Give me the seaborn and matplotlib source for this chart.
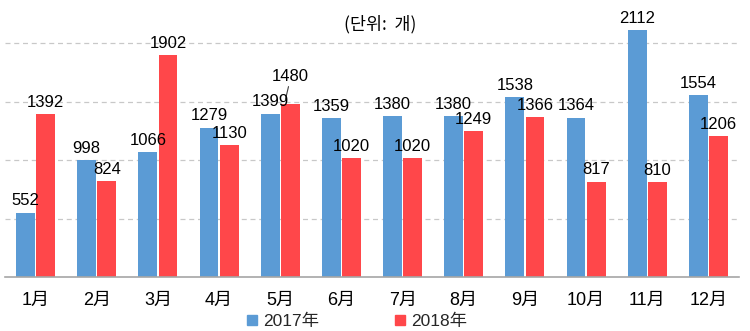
import matplotlib
matplotlib.use("Agg")
import matplotlib.pyplot as plt
from matplotlib.lines import Line2D
import numpy as np
import pandas as pd
import seaborn as sns

months = ["1月", "2月", "3月", "4月", "5月", "6月", "7月", "8月", "9月", "10月", "11月", "12月"]
years = ["2017年", "2018年"]
values_2017 = [552, 998, 1066, 1279, 1399, 1359, 1380, 1380, 1538, 1364, 2112, 1554]
values_2018 = [1392, 824, 1902, 1130, 1480, 1020, 1020, 1249, 1366, 817, 810, 1206]
unit_title = "(단위:  개)"

colors = ["#5B9BD5", "#FF474A"]

df = pd.DataFrame({
    "month": months * 2,
    "year": [years[0]] * len(months) + [years[1]] * len(months),
    "value": values_2017 + values_2018,
})

sns.set_theme(style="white")
plt.rcParams["font.family"] = ["Liberation Sans", "Noto Sans CJK SC", "DejaVu Sans"]

fig = plt.figure(figsize=(7.5, 3.31), dpi=100)
ax = fig.add_axes([5 / 750, 1 - 277 / 331, 734 / 750, 257 / 331])

sns.barplot(data=df, x="month", y="value", hue="year", order=months, hue_order=years,
            palette=colors, width=0.66, gap=0.06, saturation=1, legend=False, ax=ax,
            edgecolor="none")

ax.set_ylim(0, 2200)
ax.set_xlim(-0.5, len(months) - 0.5)
ax.set_xlabel("")
ax.set_ylabel("")
ax.set_yticks([500, 1000, 1500, 2000])
ax.set_yticklabels([])
ax.tick_params(axis="y", length=0)
ax.yaxis.grid(True, color="#C8C8C8", linestyle=(0, (4, 3)), linewidth=0.9)
ax.set_axisbelow(True)

for side in ["left", "right", "top"]:
    ax.spines[side].set_visible(False)
ax.spines["bottom"].set_color("#A6A6A6")
ax.spines["bottom"].set_linewidth(1.2)

ax.tick_params(axis="x", which="major", length=0, pad=11, labelsize=13, labelcolor="black")
ax.set_xticks(np.arange(-0.5, len(months), 1.0), minor=True)
ax.tick_params(axis="x", which="minor", length=4, color="#A6A6A6", width=1)

# value labels sitting on top of each bar
series = [values_2017, values_2018]
for container, vals in zip(ax.containers, series):
    for patch, v in zip(container.patches, vals):
        cx = patch.get_x() + patch.get_width() / 2
        if v == 1480:
            ax.text(cx, v + 170, str(v), ha="center", va="bottom", fontsize=12, color="black")
            ax.plot([cx - 0.08, cx - 0.03], [v + 40, v + 150], color="#404040", lw=0.8)
        else:
            ax.annotate(str(v), xy=(cx, v), xytext=(0, 3), textcoords="offset points",
                        ha="center", va="bottom", fontsize=12, color="black")

fig.text(380 / 750, 1 - 24.5 / 331, unit_title, ha="center", va="center", fontsize=12.5,
         family=["Noto Sans CJK KR", "DejaVu Sans"], color="black")

handles = [Line2D([0], [0], marker="s", linestyle="none", markersize=7,
                  markerfacecolor=c, markeredgecolor=c) for c in colors]
fig.legend(handles, years, loc="center", bbox_to_anchor=(356 / 750, 1 - 321 / 331),
           ncol=2, frameon=False, fontsize=12.5, handletextpad=0.2, columnspacing=4.3,
           handlelength=0.8, borderpad=0)

fig.savefig("out.png", dpi=100)
